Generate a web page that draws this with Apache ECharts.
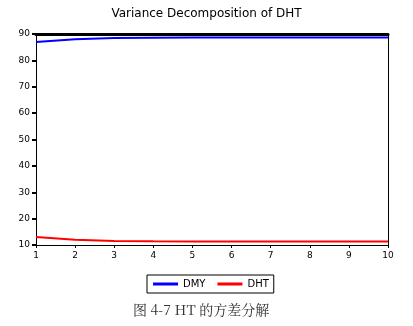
<!DOCTYPE html>
<html><head><meta charset="utf-8">
<script src="https://cdn.jsdelivr.net/npm/echarts@6/dist/echarts.min.js"></script>
<style>html,body{margin:0;padding:0;background:#fff}#c{width:413px;height:326px}</style>
</head><body><div id="c"></div>
<script>
const periods = [1,2,3,4,5,6,7,8,9,10];
const dmy = [87.0, 88.0, 88.45, 88.6, 88.65, 88.7, 88.7, 88.7, 88.7, 88.7];
const dht = [13.0, 12.0, 11.55, 11.4, 11.35, 11.3, 11.3, 11.3, 11.3, 11.3];
const yTicks = [10,20,30,40,50,60,70,80,90];
const titleText = 'Variance Decomposition of DHT';
const captionText = '图 4-7 HT 的方差分解';

const chart = echarts.init(document.getElementById('c'));
const FF = 'DejaVu Sans, Verdana, sans-serif';
const lab = {color:'#000', fontFamily:FF, fontSize:9};
chart.setOption({
  animation:false,
  title:{text:titleText, left:'center', top:3, textStyle:{fontFamily:FF, fontSize:12, fontWeight:'normal', color:'#000'}},
  grid:{left:36, right:25, top:34, bottom:81},
  xAxis:[
    {type:'value', min:1, max:10, interval:1, axisLine:{lineStyle:{color:'#000', width:1}}, axisTick:{length:3, lineStyle:{color:'#000'}}, axisLabel:Object.assign({margin:6}, lab), splitLine:{show:false}},
    {type:'value', position:'top', min:1, max:10, axisLine:{lineStyle:{color:'#000', width:3}}, axisTick:{show:false}, axisLabel:{show:false}, splitLine:{show:false}}
  ],
  yAxis:[
    {type:'value', min:10, max:90, interval:10, axisLine:{show:true, lineStyle:{color:'#000', width:1}}, axisTick:{show:true, length:4, lineStyle:{color:'#000', width:2}}, axisLabel:Object.assign({margin:6, formatter:v=>yTicks.includes(v)?String(v):''}, lab), splitLine:{show:false}},
    {type:'value', position:'right', min:10, max:90, axisLine:{show:true, lineStyle:{color:'#000', width:1}}, axisTick:{show:false}, axisLabel:{show:false}, splitLine:{show:false}}
  ],
  legend:{
    left:147, top:275, padding:[4,5,4,6], borderColor:'#000', borderWidth:1,
    itemWidth:25, itemHeight:3, itemGap:12, icon:'rect',
    textStyle:{fontFamily:FF, fontSize:10, color:'#000'},
    data:['DMY','DHT']
  },
  graphic:[
    {type:'text', left:133, top:303, style:{text:captionText, fontFamily:'Noto Serif CJK SC, Noto Sans CJK SC, serif', fontSize:14, fill:'#333'}}
  ],
  series:[
    {name:'DMY', type:'line', data:periods.map((p,i)=>[p,dmy[i]]), showSymbol:false, lineStyle:{color:'#0000ff', width:2}, itemStyle:{color:'#0000ff'}},
    {name:'DHT', type:'line', data:periods.map((p,i)=>[p,dht[i]]), showSymbol:false, lineStyle:{color:'#ff0000', width:2}, itemStyle:{color:'#ff0000'}}
  ]
});
</script></body></html>
